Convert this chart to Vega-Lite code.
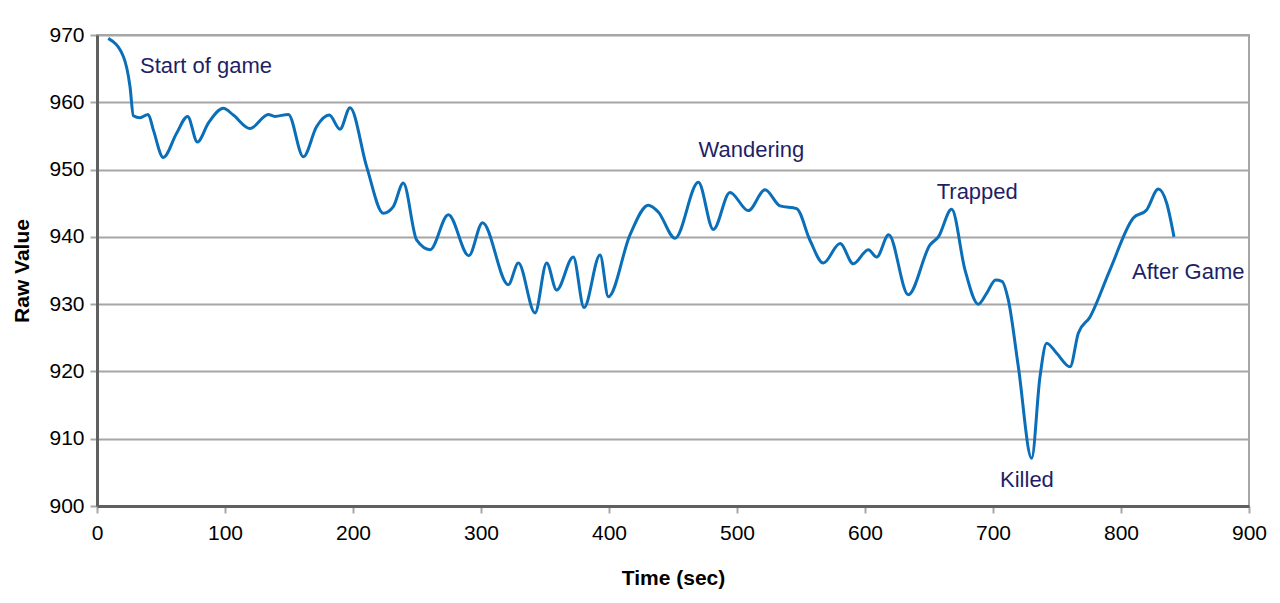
{
  "$schema": "https://vega.github.io/schema/vega-lite/v6.json",
  "autosize": {"type": "none"},
  "padding": {"left": 97, "top": 35, "right": 31, "bottom": 97},
  "width": 1152,
  "height": 471,
  "background": "white",
  "config": {
    "font": "Liberation Sans",
    "view": {"stroke": "#a6a6a6", "strokeWidth": 2}
  },
  "datasets": {
    "series": [
      {"t": 8.8, "v": 969.5}, {"t": 20.6, "v": 966.8}, {"t": 25.8, "v": 962.3}, {"t": 28.4, "v": 958.0},
      {"t": 33.6, "v": 957.7}, {"t": 40, "v": 958.2}, {"t": 44, "v": 955.9}, {"t": 51.8, "v": 951.8},
      {"t": 62.2, "v": 955.4}, {"t": 70.8, "v": 957.9}, {"t": 78.4, "v": 954.1}, {"t": 87, "v": 956.9},
      {"t": 98.7, "v": 959.1}, {"t": 106.5, "v": 958.1}, {"t": 119.5, "v": 956.1}, {"t": 133.8, "v": 958.2},
      {"t": 139, "v": 957.9}, {"t": 149.5, "v": 958.2}, {"t": 161.2, "v": 951.9}, {"t": 171.6, "v": 956.4},
      {"t": 181.5, "v": 958.1}, {"t": 189.8, "v": 956.0}, {"t": 197.7, "v": 959.2}, {"t": 210.7, "v": 950.4},
      {"t": 223.7, "v": 943.5}, {"t": 231.5, "v": 944.5}, {"t": 239.3, "v": 948.0}, {"t": 249.8, "v": 939.5},
      {"t": 260.2, "v": 938.1}, {"t": 274.5, "v": 943.3}, {"t": 290.5, "v": 937.2}, {"t": 301.2, "v": 942.1},
      {"t": 321.3, "v": 932.9}, {"t": 329.2, "v": 936.1}, {"t": 342.2, "v": 928.7}, {"t": 351.3, "v": 936.1},
      {"t": 359.1, "v": 932.1}, {"t": 372.1, "v": 937.0}, {"t": 380.5, "v": 929.5}, {"t": 393, "v": 937.3},
      {"t": 399.5, "v": 931.1}, {"t": 416.4, "v": 940.3}, {"t": 430.7, "v": 944.7}, {"t": 438.5, "v": 943.7},
      {"t": 451.6, "v": 939.8}, {"t": 469.8, "v": 948.1}, {"t": 481.5, "v": 941.1}, {"t": 494.5, "v": 946.6},
      {"t": 508.8, "v": 943.9}, {"t": 521.9, "v": 947.0}, {"t": 533.6, "v": 944.6}, {"t": 546.6, "v": 944.2},
      {"t": 557, "v": 939.5}, {"t": 567.4, "v": 936.1}, {"t": 580.5, "v": 939.0}, {"t": 590.9, "v": 936.0},
      {"t": 602.6, "v": 938.1}, {"t": 609.1, "v": 937.0}, {"t": 618.5, "v": 940.3}, {"t": 633.8, "v": 931.4},
      {"t": 650.8, "v": 938.8}, {"t": 657.3, "v": 940.0}, {"t": 667.7, "v": 944.1}, {"t": 678.1, "v": 935.1},
      {"t": 688.5, "v": 930.0}, {"t": 695, "v": 931.6}, {"t": 702, "v": 933.6}, {"t": 707, "v": 933.4},
      {"t": 712, "v": 930.6},
      {"t": 719.8, "v": 920.7}, {"t": 730.2, "v": 907.1}, {"t": 736.7, "v": 919.2}, {"t": 741.9, "v": 924.2},
      {"t": 749.8, "v": 922.7}, {"t": 760.2, "v": 920.7}, {"t": 766.7, "v": 925.7}, {"t": 775.8, "v": 928.1},
      {"t": 791.4, "v": 935.1}, {"t": 809.6, "v": 942.8}, {"t": 820, "v": 944.0}, {"t": 829.2, "v": 947.1},
      {"t": 835.7, "v": 945.0}, {"t": 841.4, "v": 940.0}
    ],
    "notes": [
      {"t": 33.6, "v": 965.4, "label": "Start of game"},
      {"t": 470, "v": 952.9, "label": "Wandering"},
      {"t": 656, "v": 946.7, "label": "Trapped"},
      {"t": 705.5, "v": 903.9, "label": "Killed"},
      {"t": 808.6, "v": 934.8, "label": "After Game"}
    ]
  },
  "layer": [
    {
      "data": {"name": "series"},
      "mark": {"type": "line", "interpolate": "monotone", "color": "#0a6fb8", "strokeWidth": 3},
      "encoding": {
        "x": {
          "field": "t", "type": "quantitative",
          "scale": {"domain": [0, 900], "nice": false},
          "axis": {
            "title": "Time (sec)", "values": [0, 100, 200, 300, 400, 500, 600, 700, 800, 900],
            "grid": false, "domainColor": "#606060", "domainWidth": 3,
            "tickColor": "#a6a6a6", "tickWidth": 2, "tickSize": 7,
            "labelFlush": false,
            "labelFont": "Liberation Sans", "labelFontSize": 21, "labelColor": "#000000", "labelPadding": 9,
            "titleFont": "Liberation Sans", "titleFontSize": 21, "titleFontWeight": "bold", "titleColor": "#000000", "titlePadding": 24
          }
        },
        "y": {
          "field": "v", "type": "quantitative",
          "scale": {"domain": [900, 970], "nice": false, "zero": false},
          "axis": {
            "title": "Raw Value", "values": [900, 910, 920, 930, 940, 950, 960, 970],
            "grid": true, "gridColor": "#a6a6a6", "gridWidth": 2,
            "domainColor": "#606060", "domainWidth": 3,
            "tickColor": "#a6a6a6", "tickWidth": 2, "tickSize": 7,
            "labelFlush": false,
            "labelFont": "Liberation Sans", "labelFontSize": 21, "labelColor": "#000000", "labelPadding": 6,
            "titleFont": "Liberation Sans", "titleFontSize": 21, "titleFontWeight": "bold", "titleColor": "#000000", "titlePadding": 16
          }
        }
      }
    },
    {
      "data": {"name": "notes"},
      "mark": {"type": "text", "align": "left", "baseline": "middle", "font": "Liberation Sans", "fontSize": 22, "color": "#1f1f66"},
      "encoding": {
        "x": {"field": "t", "type": "quantitative"},
        "y": {"field": "v", "type": "quantitative"},
        "text": {"field": "label"}
      }
    }
  ]
}
